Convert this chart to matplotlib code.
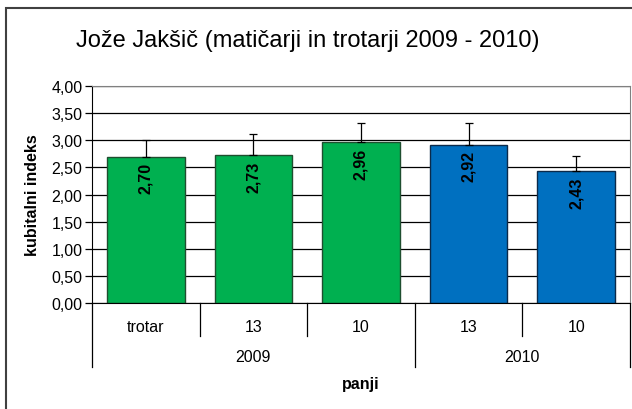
import matplotlib
matplotlib.use("Agg")
import matplotlib.pyplot as plt
import matplotlib.patches as patches
import matplotlib.transforms as transforms

plt.rcParams['font.family'] = ['Liberation Sans', 'DejaVu Sans']

# chart data
categories = ['trotar', '13', '10', '13', '10']
groups = ['2009', '2010']
group_sizes = [3, 2]
values = [2.70, 2.73, 2.96, 2.92, 2.43]
errors = [0.30, 0.39, 0.36, 0.40, 0.28]
bar_colors = ['#00B050', '#00B050', '#00B050', '#0070C0', '#0070C0']
edge_colors = ['#1F4E2F', '#1F4E2F', '#1F4E2F', '#0B2A4A', '#0B2A4A']
yticks = [0, 0.5, 1.0, 1.5, 2.0, 2.5, 3.0, 3.5, 4.0]

fig = plt.figure(figsize=(6.32, 4.10), dpi=100)
ax = fig.add_axes([92 / 632, 1 - 304 / 410, (630 - 92) / 632, (304 - 87) / 410])

# outer chart border
fig.patches.append(patches.Rectangle((6 / 632, -0.05), 1.2, 1 - 9 / 410 + 0.05,
                                     transform=fig.transFigure, fill=False,
                                     edgecolor='#404040', linewidth=1.5))

x = list(range(len(values)))
ax.set_axisbelow(True)
ax.yaxis.grid(True, color='black', linewidth=0.9)
ax.bar(x, values, width=0.72, color=bar_colors, edgecolor=edge_colors, linewidth=1.0)
ax.errorbar(x, values, yerr=[[0] * len(errors), errors], fmt='none',
            ecolor='black', elinewidth=0.9, capsize=3, capthick=0.9)

for xi, v in zip(x, values):
    ax.annotate(f"{v:.2f}".replace('.', ','), (xi, v), xytext=(0, -4),
                textcoords='offset points', rotation=90, ha='center', va='top',
                fontsize=11.5, fontweight='bold', color='black')

ax.set_xlim(-0.5, len(values) - 0.5)
ax.set_ylim(0, 4)
ax.set_yticks(yticks)
ax.set_yticklabels([f"{t:.2f}".replace('.', ',') for t in yticks], fontsize=11.5)
ax.tick_params(axis='y', direction='out', length=5, width=0.9, pad=2)
ax.set_xticks([])

for side in ['top', 'right']:
    ax.spines[side].set_color('#808080')
ax.spines['left'].set_color('black')
ax.spines['bottom'].set_color('black')
ax.set_ylabel('kubitalni indeks', fontsize=11.5, fontweight='bold', labelpad=8)

# multi-level category axis
trans = transforms.blended_transform_factory(ax.transData, ax.transAxes)
h = ax.bbox.height
lvl1 = -33 / h
lvl2 = -64 / h
for i, lab in enumerate(categories):
    ax.text(i, -24 / h, lab, transform=trans, ha='center', va='center', fontsize=11.5)

bounds = [-0.5]
for s in group_sizes:
    bounds.append(bounds[-1] + s)
for b in bounds:
    ax.plot([b, b], [0, lvl2], transform=trans, color='black', linewidth=0.9, clip_on=False)
for i in range(len(values) - 1):
    b = i + 0.5
    if b not in bounds:
        ax.plot([b, b], [0, lvl1], transform=trans, color='black', linewidth=0.9, clip_on=False)
for g, lo, hi in zip(groups, bounds[:-1], bounds[1:]):
    ax.text((lo + hi) / 2, -54 / h, g, transform=trans, ha='center', va='center', fontsize=11.5)

ax.text(0.5, -81 / h, 'panji', transform=ax.transAxes, ha='center', va='center',
        fontsize=11.5, fontweight='bold')

fig.text(308 / 632, 1 - 41 / 410, 'Jože Jakšič (matičarji in trotarji 2009 - 2010)',
         ha='center', va='center', fontsize=17)

fig.savefig('out.png', dpi=100)
